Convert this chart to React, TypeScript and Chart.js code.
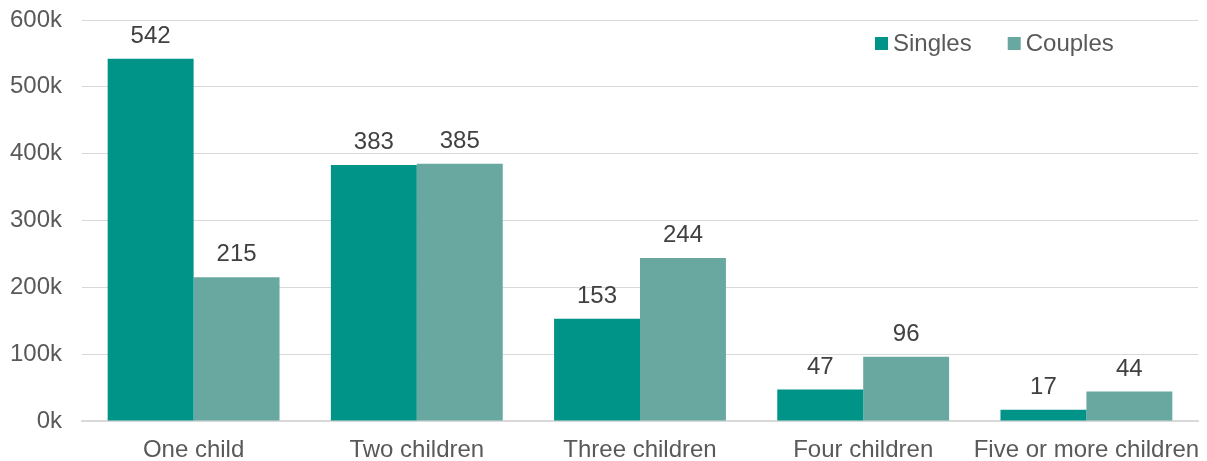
import React, { useEffect, useRef } from "react";
import { Chart, registerables } from "chart.js";

Chart.register(...registerables);

const categories = ["One child", "Two children", "Three children", "Four children", "Five or more children"];
const singles = [542, 383, 153, 47, 17];
const couples = [215, 385, 244, 96, 44];
const seriesNames = ["Singles", "Couples"];
const colors = ["#009488", "#68A8A1"];

const FONT = "'Liberation Sans', Arial, sans-serif";
const TEXT = "#595959";
const SIZE = 24;

const labelPlugin = {
  id: "valueLabels",
  afterDatasetsDraw(chart: any) {
    const ctx = chart.ctx;
    ctx.save();
    ctx.font = `${SIZE}px ${FONT}`;
    ctx.fillStyle = "#404040";
    ctx.textAlign = "center";
    ctx.textBaseline = "alphabetic";
    chart.data.datasets.forEach((ds: any, i: number) => {
      const meta = chart.getDatasetMeta(i);
      meta.data.forEach((bar: any, j: number) => {
        ctx.fillText(String(ds.data[j]), bar.x, bar.y - 16);
      });
    });
    // legend
    const area = chart.chartArea;
    let x = area.right - 323;
    const y = area.top + 23;
    ctx.textAlign = "left";
    ctx.textBaseline = "middle";
    chart.data.datasets.forEach((ds: any, i: number) => {
      ctx.fillStyle = ds.backgroundColor;
      ctx.fillRect(x, y - 6, 13, 13);
      ctx.fillStyle = TEXT;
      ctx.fillText(ds.label, x + 18, y + 1);
      x += 18 + ctx.measureText(ds.label).width + 36;
    });
    ctx.restore();
  },
};

export default function App() {
  const ref = useRef<HTMLCanvasElement>(null);
  useEffect(() => {
    const chart = new Chart(ref.current!, {
      type: "bar",
      data: {
        labels: categories,
        datasets: [
          { label: seriesNames[0], data: singles, backgroundColor: colors[0] },
          { label: seriesNames[1], data: couples, backgroundColor: colors[1] },
        ],
      },
      options: {
        animation: false,
        responsive: false,
        maintainAspectRatio: false,
        layout: { padding: { top: 20, right: 9, left: 0, bottom: 0 } },
        plugins: { legend: { display: false }, tooltip: { enabled: false } },
        datasets: { bar: { categoryPercentage: 0.77, barPercentage: 1 } },
        scales: {
          x: {
            grid: { display: false },
            border: { color: "#D9D9D9", width: 2 },
            ticks: { color: TEXT, font: { family: FONT, size: SIZE }, padding: 7, maxRotation: 0, autoSkip: false },
            afterFit: (s: any) => { s.height = 40; s.paddingLeft = 0; s.paddingRight = 0; },
          },
          y: {
            min: 0,
            max: 600,
            ticks: {
              stepSize: 100,
              color: TEXT,
              font: { family: FONT, size: SIZE },
              padding: 20,
              callback: (v: any) => `${v}k`,
            },
            grid: { color: "#D9D9D9", lineWidth: 1, drawTicks: false },
            border: { display: false },
            afterFit: (s: any) => { s.width = 82; s.paddingTop = 0; s.paddingBottom = 0; },
          },
        },
      },
      plugins: [labelPlugin],
    });
    return () => chart.destroy();
  }, []);
  return (
    <div style={{ position: "fixed", left: 0, top: 0, width: 1207, height: 461, background: "#fff" }}>
      <canvas ref={ref} width={1207} height={461} />
    </div>
  );
}
